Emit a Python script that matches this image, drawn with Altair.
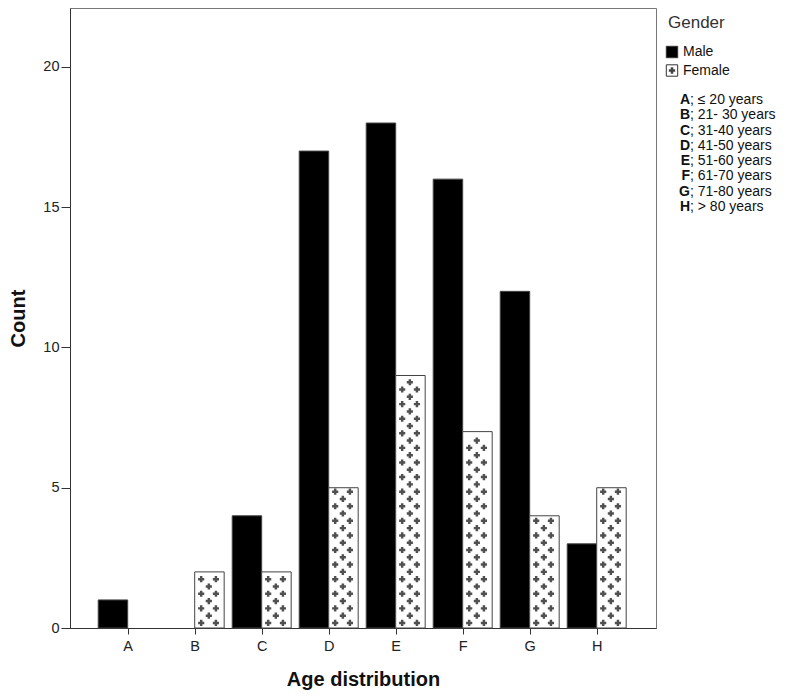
import json
import altair as alt
import pandas as pd

# ---------------- data ----------------
categories = ["A", "B", "C", "D", "E", "F", "G", "H"]
male_counts = [1, 0, 4, 17, 18, 16, 12, 3]
female_counts = [0, 2, 2, 5, 9, 7, 4, 5]
age_ranges = ["≤ 20 years", "21- 30 years", "31-40 years", "41-50 years",
              "51-60 years", "61-70 years", "71-80 years", "> 80 years"]
genders = ["Male", "Female"]
legend_title = "Gender"
x_title = "Age distribution"
y_title = "Count"
y_ticks = [0, 5, 10, 15, 20]

FONT = "Liberation Sans"
BAR_W = 0.44

rows = []
for i, c in enumerate(categories):
    rows.append({"cat": c, "idx": i + 1, "gender": "Male", "count": male_counts[i]})
    rows.append({"cat": c, "idx": i + 1, "gender": "Female", "count": female_counts[i]})
bars_df = pd.DataFrame(rows)
fem_df = bars_df[bars_df["gender"] == "Female"].copy()
leg_df = pd.DataFrame({"gender": genders})
key_df = pd.DataFrame({"cat": categories, "rest": ["; " + r for r in age_ranges]})
title_df = pd.DataFrame({"t": [legend_title]})

xscale = alt.Scale(domain=[0.139, 8.885], nice=False, zero=False)
yscale = alt.Scale(domain=[0, 22.1], nice=False)
fill_scale = alt.Scale(domain=genders, range=["#000000", "#ffffff"])

label_expr = json.dumps(categories) + "[datum.value - 1]"

x_axis = alt.Axis(values=list(range(1, len(categories) + 1)), labelExpr=label_expr,
                  title=x_title, grid=False, tickSize=6, labelPadding=5,
                  labelFontSize=14.5, titleFontSize=20, titleFontWeight="bold",
                  titlePadding=17)

bars = alt.Chart(bars_df).transform_filter("datum.count > 0").transform_calculate(
    x0=f"datum.gender == 'Male' ? datum.idx - {BAR_W} : datum.idx"
).transform_calculate(
    x1=f"datum.x0 + {BAR_W}"
).mark_bar(stroke="#444444", strokeWidth=1).encode(
    x=alt.X("x0:Q", scale=xscale, axis=x_axis),
    x2="x1:Q",
    y=alt.Y("count:Q", scale=yscale,
            axis=alt.Axis(values=y_ticks, format="d", title=y_title, grid=False,
                          tickSize=9, labelPadding=2, labelFontSize=14.5,
                          titleFontSize=20, titleFontWeight="bold", titlePadding=14)),
    y2=alt.datum(0),
    fill=alt.Fill("gender:N", scale=fill_scale, legend=None),
)

pattern = alt.Chart(fem_df).transform_filter("datum.count > 0").transform_calculate(
    rowsarr="sequence(0.18, datum.count - 0.12, 0.26)"
).transform_flatten(["rowsarr"], as_=["py"]).transform_calculate(
    k="round((datum.py - 0.18) / 0.26)"
).transform_calculate(
    cols="datum.k % 2 == 0 ? [0.22, 0.72] : [0.48]"
).transform_flatten(["cols"], as_=["cf"]).transform_calculate(
    px=f"datum.idx + datum.cf * {BAR_W}"
).mark_point(shape="cross", filled=True, size=38, color="#505050", opacity=1).encode(
    x=alt.X("px:Q", scale=xscale, axis=x_axis),
    y=alt.Y("py:Q", scale=yscale, axis=None),
)

yleg = alt.Y("gender:N", scale=alt.Scale(domain=genders, range=[44, 62.5], padding=0), axis=None)

leg_title = alt.Chart(title_df).mark_text(
    align="left", baseline="middle", fontSize=17, font=FONT, color="#333333"
).encode(x=alt.value(598), y=alt.value(15), text="t:N")

leg_sq = alt.Chart(leg_df).mark_point(
    shape="square", filled=True, size=130, stroke="#333333", strokeWidth=1, opacity=1
).encode(x=alt.value(602), y=yleg, fill=alt.Fill("gender:N", scale=fill_scale, legend=None))

leg_cross = alt.Chart(leg_df).transform_filter("datum.gender == 'Female'").mark_point(
    shape="cross", filled=True, size=40, color="#444444", opacity=1
).encode(x=alt.value(602), y=yleg)

leg_txt = alt.Chart(leg_df).mark_text(
    align="left", baseline="middle", fontSize=14, font=FONT, color="#111111"
).encode(x=alt.value(613), y=yleg, text="gender:N")

ykey = alt.Y("cat:N", scale=alt.Scale(domain=categories, range=[92, 199], padding=0), axis=None)

key_letters = alt.Chart(key_df).mark_text(
    align="right", baseline="middle", fontSize=14, font=FONT, fontWeight="bold", color="#111111"
).encode(x=alt.value(620), y=ykey, text="cat:N")

key_rest = alt.Chart(key_df).mark_text(
    align="left", baseline="middle", fontSize=14, font=FONT, color="#111111"
).encode(x=alt.value(620), y=ykey, text="rest:N")

chart = alt.layer(
    bars, pattern, leg_title, leg_sq, leg_cross, leg_txt, key_letters, key_rest
).resolve_scale(y="independent").properties(
    width=586, height=620,
    padding={"left": 0, "top": 0, "right": 0, "bottom": 0},
).configure_view(
    stroke="#777777", strokeWidth=1
).configure_axis(
    domainColor="#333333", tickColor="#333333", labelColor="#222222",
    titleColor="#111111", labelFont=FONT, titleFont=FONT
)

chart.save("out.html", embed_options={"renderer": "svg", "actions": False})
